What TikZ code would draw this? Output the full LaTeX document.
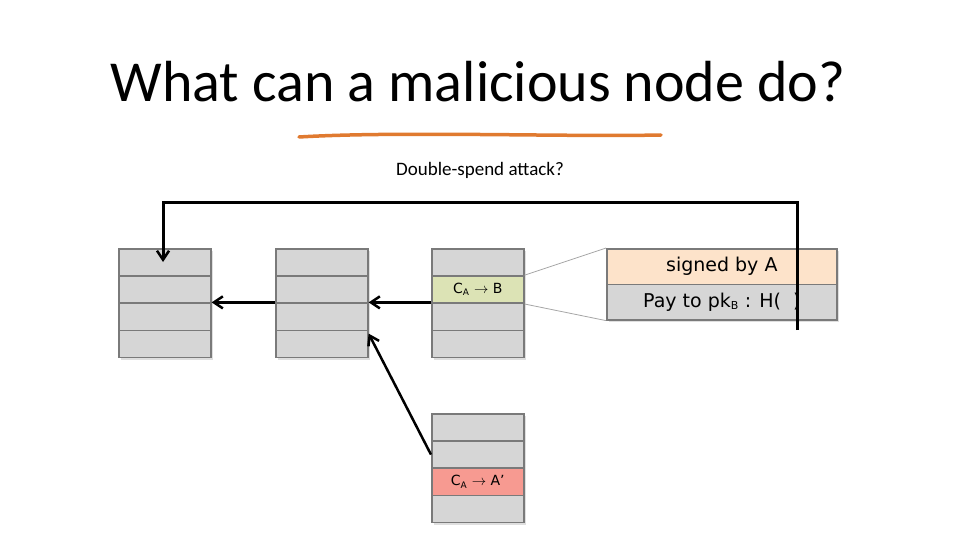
\documentclass[tikz,border=0pt]{standalone}
\usepackage{fontspec}
\setmainfont{Carlito}
\newfontfamily\blk{DejaVu Sans}
\usetikzlibrary{arrows.meta,shadows}
\definecolor{cellgray}{HTML}{D6D6D6}
\definecolor{cellline}{HTML}{7A7A7A}
\definecolor{cellgreen}{HTML}{DCE3B5}
\definecolor{cellred}{HTML}{F79A91}
\definecolor{cellpeach}{HTML}{FDE3CA}
\definecolor{uline}{HTML}{E07A30}
\begin{document}
\begin{tikzpicture}[x=1pt,y=-1pt,
  cell/.style={draw=cellline,line width=1.6pt,fill=cellgray,minimum width=92pt,minimum height=27.2pt,inner sep=0pt,anchor=north west,font=\blk\fontsize{14}{14}\selectfont,drop shadow={opacity=0.25,shadow xshift=2pt,shadow yshift=-2pt}},
  big/.style={cell,minimum width=230pt,minimum height=35.5pt,font=\blk\fontsize{19}{19}\selectfont},
  arr/.style={line width=3pt,-{Straight Barb[length=9pt,width=12pt,line width=2.5pt]}},
  thin/.style={draw=gray!70,line width=0.8pt}]
\useasboundingbox (0,0) rectangle (960,540);
\node[font=\fontsize{58}{58}\selectfont\addfontfeature{}] (title) at (478,82) {What can a malicious node do?};
\draw[uline,line width=3.5pt,line cap=round] (299,137) .. controls (400,131) and (560,137) .. (661,135);
\node[font=\fontsize{19}{19}\selectfont] (sub) at (480,170) {Double-spend attack?};
% block 1
\foreach \i in {0,1,2,3} {\node[cell] (a\i) at (118,{248+27.2*\i}) {};}
\foreach \i in {0,1,2,3} {\node[cell] (b\i) at (275,{248+27.2*\i}) {};}
\node[cell] (c0) at (431,248) {};
\node[cell,fill=cellgreen] (c1) at (431,275.2) {C\textsubscript{\fontsize{9}{9}\selectfont A} $\rightarrow$ B};
\node[cell] (c2) at (431,302.4) {};
\node[cell] (c3) at (431,329.6) {};
\node[cell] (d0) at (431,413) {};
\node[cell] (d1) at (431,440.2) {};
\node[cell,fill=cellred] (d2) at (431,467.4) {C\textsubscript{\fontsize{9}{9}\selectfont A} $\rightarrow$ A’};
\node[cell] (d3) at (431,494.6) {};
\node[big,fill=cellpeach] (s0) at (606,248) {signed by A};
\node[big] (s1) at (606,283.5) {Pay to pk\textsubscript{\fontsize{11}{11}\selectfont B} : H(\hspace{12pt})};
\draw[thin] (c1.north east) -- (s0.north west);
\draw[thin] (c1.south east) -- (s1.south west);
\draw[arr] (b2.north west) -- (a2.north east);
\draw[arr] (c2.north west) -- (b2.north east);
\draw[arr,line width=2.5pt] (d1.west) -- ([yshift=-4pt]b3.north east);
\coordinate (h) at (797,330);
\coordinate (t) at (163,262);
\draw[arr] (h) -- (797,202) -- (163,202) -- (t);
\end{tikzpicture}
\end{document}
